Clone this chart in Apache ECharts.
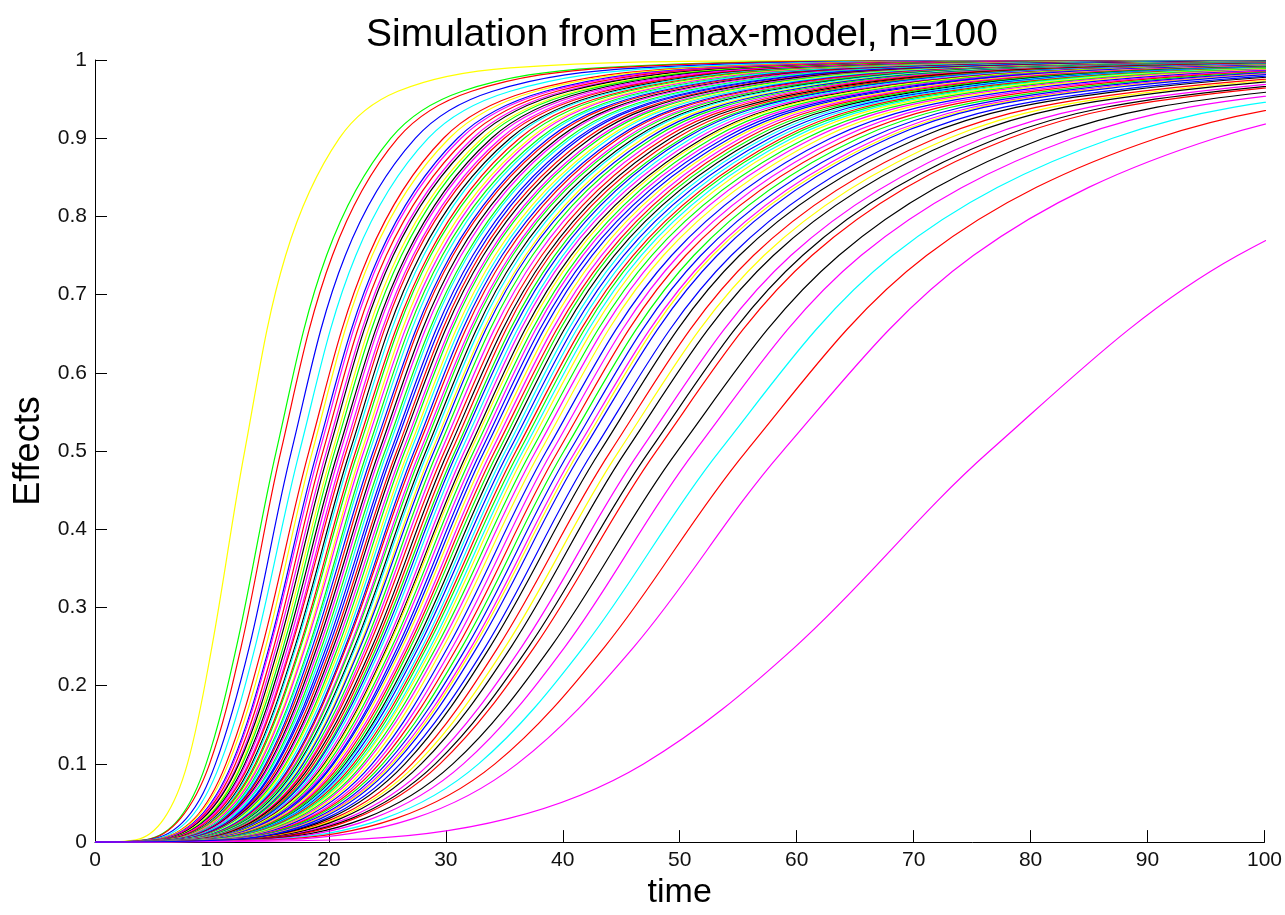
<!DOCTYPE html>
<html>
<head>
<meta charset="utf-8">
<script src="https://cdn.jsdelivr.net/npm/echarts@6/dist/echarts.min.js"></script>
<style>html,body{margin:0;padding:0;background:#fff}#chart{width:1285px;height:915px}</style>
</head>
<body>
<div id="chart"></div>
<script>
// Effect levels at which the crossing time of each simulated subject was read
const effectLevels = [0, 0.003, 0.03, 0.1, 0.25, 0.5, 0.75, 0.9, 0.96, 0.99, 0.999, 0.99999];

// Time at which each of the 100 simulated curves reaches the effect levels above
const subjectTimes = [
[0,3.5,5.9,7.9,10.0,12.8,16.3,20.9,25.9,35.5,59.4,165.3],
[0,4.3,7.2,9.5,12.1,15.5,19.8,25.3,31.4,43.0,71.9,200.2],
[0,4.4,7.3,9.8,12.5,15.9,20.3,25.9,32.2,44.1,73.8,205.3],
[0,4.6,7.8,10.3,13.2,16.8,21.4,27.4,34.0,46.6,78.0,217.0],
[0,4.8,8.1,10.7,13.7,17.5,22.3,28.5,35.5,48.6,81.2,226.0],
[0,5.0,8.5,11.2,14.3,18.3,23.4,29.8,37.1,50.8,84.9,236.3],
[0,5.1,8.6,11.4,14.6,18.6,23.7,30.3,37.7,51.6,86.3,240.2],
[0,5.2,8.8,11.7,14.9,19.0,24.3,31.0,38.5,52.7,88.2,245.4],
[0,5.3,8.9,11.8,15.0,19.2,24.5,31.3,38.9,53.3,89.1,248.0],
[0,5.4,9.0,12.0,15.3,19.5,24.9,31.8,39.5,54.1,90.5,251.8],
[0,5.4,9.1,12.2,15.5,19.8,25.3,32.3,40.1,55.0,91.9,255.7],
[0,5.5,9.2,12.3,15.7,20.0,25.5,32.6,40.5,55.5,92.8,258.3],
[0,5.6,9.4,12.5,15.9,20.3,25.9,33.1,41.1,56.4,94.2,262.2],
[0,5.6,9.5,12.6,16.1,20.5,26.2,33.4,41.5,56.9,95.1,264.8],
[0,5.7,9.6,12.8,16.3,20.8,26.6,33.9,42.1,57.7,96.5,268.6],
[0,5.8,9.7,12.9,16.5,21.0,26.8,34.2,42.6,58.3,97.5,271.2],
[0,5.9,9.8,13.1,16.7,21.3,27.2,34.7,43.2,59.1,98.8,275.1],
[0,5.9,9.9,13.2,16.8,21.5,27.4,35.0,43.6,59.7,99.8,277.7],
[0,6.0,10.1,13.4,17.1,21.8,27.8,35.5,44.2,60.5,101.2,281.5],
[0,6.1,10.2,13.5,17.2,22.0,28.1,35.8,44.6,61.1,102.1,284.1],
[0,6.1,10.3,13.7,17.5,22.3,28.5,36.3,45.2,61.9,103.5,288.0],
[0,6.2,10.4,13.8,17.6,22.5,28.7,36.7,45.6,62.5,104.4,290.6],
[0,6.3,10.5,14.0,17.9,22.8,29.1,37.2,46.2,63.3,105.8,294.5],
[0,6.3,10.6,14.1,18.0,23.0,29.4,37.5,46.6,63.9,106.7,297.0],
[0,6.4,10.8,14.3,18.3,23.3,29.7,38.0,47.2,64.7,108.1,300.9],
[0,6.5,10.9,14.4,18.4,23.5,30.0,38.3,47.6,65.2,109.1,303.5],
[0,6.5,11.0,14.6,18.6,23.8,30.4,38.8,48.2,66.1,110.4,307.4],
[0,6.6,11.1,14.7,18.8,24.0,30.6,39.1,48.6,66.6,111.4,310.0],
[0,6.7,11.2,14.9,19.0,24.3,31.0,39.6,49.2,67.5,112.8,313.8],
[0,6.7,11.3,15.0,19.2,24.5,31.3,39.9,49.6,68.0,113.7,316.4],
[0,6.8,11.5,15.2,19.4,24.8,31.7,40.4,50.3,68.9,115.1,320.3],
[0,6.9,11.5,15.3,19.6,25.0,31.9,40.7,50.7,69.4,116.0,322.9],
[0,7.0,11.7,15.5,19.8,25.3,32.3,41.2,51.3,70.2,117.4,326.7],
[0,7.0,11.8,15.6,20.0,25.5,32.6,41.5,51.7,70.8,118.3,329.3],
[0,7.1,11.9,15.8,20.2,25.8,32.9,42.0,52.3,71.6,119.7,333.2],
[0,7.2,12.0,16.0,20.4,26.0,33.2,42.4,52.7,72.2,120.7,335.8],
[0,7.2,12.1,16.1,20.6,26.3,33.6,42.9,53.3,73.0,122.1,339.7],
[0,7.3,12.2,16.3,20.8,26.5,33.8,43.2,53.7,73.6,123.0,342.2],
[0,7.4,12.4,16.4,21.0,26.8,34.2,43.7,54.3,74.4,124.4,346.1],
[0,7.4,12.5,16.6,21.2,27.0,34.5,44.0,54.7,75.0,125.3,348.7],
[0,7.5,12.6,16.8,21.4,27.3,34.8,44.5,55.3,75.8,126.7,352.6],
[0,7.6,12.7,16.9,21.5,27.5,35.1,44.8,55.7,76.3,127.6,355.2],
[0,7.7,12.8,17.1,21.8,27.8,35.5,45.3,56.3,77.2,129.0,359.0],
[0,7.7,12.9,17.2,21.9,28.0,35.7,45.6,56.7,77.7,129.9,361.6],
[0,7.8,13.1,17.4,22.2,28.3,36.1,46.1,57.3,78.6,131.3,365.5],
[0,7.8,13.2,17.5,22.3,28.5,36.4,46.4,57.7,79.1,132.3,368.1],
[0,7.9,13.3,17.7,22.6,28.8,36.8,46.9,58.4,80.0,133.6,372.0],
[0,8.0,13.4,17.8,22.7,29.0,37.0,47.3,58.8,80.5,134.6,374.5],
[0,8.1,13.5,18.0,23.0,29.3,37.4,47.7,59.4,81.3,136.0,378.4],
[0,8.1,13.7,18.2,23.2,29.6,37.8,48.2,60.0,82.2,137.4,382.3],
[0,8.2,13.8,18.3,23.4,29.9,38.2,48.7,60.6,83.0,138.8,386.2],
[0,8.3,13.9,18.5,23.7,30.2,38.6,49.2,61.2,83.8,140.1,390.0],
[0,8.4,14.1,18.7,23.9,30.5,38.9,49.7,61.8,84.7,141.5,393.9],
[0,8.5,14.2,18.9,24.1,30.8,39.3,50.2,62.4,85.5,142.9,397.8],
[0,8.5,14.3,19.0,24.3,31.0,39.6,50.5,62.8,86.1,143.9,400.4],
[0,8.6,14.5,19.2,24.5,31.3,40.0,51.0,63.4,86.9,145.3,404.2],
[0,8.7,14.6,19.4,24.8,31.6,40.3,51.5,64.0,87.7,146.6,408.1],
[0,8.8,14.7,19.6,25.0,31.9,40.7,52.0,64.6,88.6,148.0,412.0],
[0,8.8,14.8,19.7,25.1,32.1,41.0,52.3,65.0,89.1,149.0,414.6],
[0,8.9,15.0,19.9,25.4,32.4,41.4,52.8,65.7,90.0,150.4,418.4],
[0,9.0,15.1,20.1,25.6,32.7,41.7,53.3,66.3,90.8,151.7,422.3],
[0,9.1,15.2,20.3,25.9,33.0,42.1,53.8,66.9,91.6,153.1,426.2],
[0,9.2,15.4,20.4,26.1,33.3,42.5,54.3,67.5,92.5,154.5,430.1],
[0,9.2,15.5,20.6,26.3,33.6,42.9,54.7,68.1,93.3,155.9,433.9],
[0,9.3,15.7,20.8,26.6,33.9,43.3,55.2,68.7,94.1,157.3,437.8],
[0,9.4,15.8,21.0,26.8,34.2,43.7,55.7,69.3,94.9,158.7,441.7],
[0,9.5,15.9,21.2,27.0,34.5,44.0,56.2,69.9,95.8,160.1,445.6],
[0,9.6,16.1,21.4,27.3,34.8,44.4,56.7,70.5,96.6,161.5,449.4],
[0,9.7,16.2,21.5,27.5,35.1,44.8,57.2,71.1,97.4,162.9,453.3],
[0,9.7,16.4,21.7,27.7,35.4,45.2,57.7,71.7,98.3,164.3,457.2],
[0,9.8,16.5,21.9,28.0,35.7,45.6,58.2,72.3,99.1,165.7,461.1],
[0,9.9,16.6,22.1,28.2,36.0,46.0,58.7,72.9,99.9,167.1,464.9],
[0,10.0,16.8,22.3,28.4,36.3,46.3,59.1,73.6,100.8,168.5,468.8],
[0,10.1,16.9,22.5,28.7,36.6,46.7,59.6,74.2,101.6,169.8,472.7],
[0,10.2,17.0,22.6,28.9,36.9,47.1,60.1,74.8,102.4,171.2,476.6],
[0,10.3,17.2,22.9,29.2,37.3,47.6,60.8,75.6,103.6,173.1,481.7],
[0,10.4,17.4,23.1,29.5,37.7,48.1,61.4,76.4,104.7,174.9,486.9],
[0,10.5,17.6,23.4,29.8,38.1,48.6,62.1,77.2,105.8,176.8,492.1],
[0,10.6,17.8,23.7,30.2,38.6,49.3,62.9,78.2,107.2,179.1,498.5],
[0,10.8,18.1,24.0,30.6,39.1,49.9,63.7,79.2,108.6,181.4,505.0],
[0,10.9,18.3,24.3,31.0,39.6,50.5,64.5,80.2,109.9,183.8,511.4],
[0,11.0,18.5,24.6,31.4,40.1,51.2,65.3,81.3,111.3,186.1,517.9],
[0,11.2,18.8,24.9,31.8,40.6,51.8,66.2,82.3,112.7,188.4,524.3],
[0,11.3,19.0,25.2,32.2,41.1,52.5,67.0,83.3,114.1,190.7,530.8],
[0,11.4,19.1,25.4,32.4,41.4,52.8,67.5,83.9,114.9,192.1,534.7],
[0,11.7,19.7,26.1,33.4,42.6,54.4,69.4,86.3,118.3,197.7,550.2],
[0,11.9,20.0,26.5,33.8,43.2,55.1,70.4,87.5,119.9,200.5,557.9],
[0,12.1,20.4,27.1,34.5,44.1,56.3,71.9,89.4,122.4,204.6,569.6],
[0,12.3,20.7,27.5,35.1,44.8,57.2,73.0,90.8,124.4,207.9,578.6],
[0,12.5,21.0,27.9,35.6,45.4,58.0,74.0,92.0,126.0,210.7,586.3],
[0,12.8,21.5,28.6,36.5,46.6,59.5,75.9,94.4,129.4,216.3,601.8],
[0,13.0,21.9,29.1,37.1,47.4,60.5,77.2,96.0,131.6,220.0,612.2],
[0,13.2,22.2,29.5,37.6,48.0,61.3,78.2,97.3,133.3,222.7,619.9],
[0,13.7,23.0,30.6,39.0,49.8,63.6,81.1,100.9,138.3,231.1,643.2],
[0,14.1,23.7,31.5,40.2,51.3,65.5,83.6,103.9,142.4,238.1,662.5],
[0,14.7,24.7,32.8,41.8,53.4,68.2,87.0,108.2,148.3,247.8,689.7],
[0,15.3,25.7,34.2,43.6,55.7,71.1,90.8,112.9,154.6,258.5,719.4],
[0,16.2,27.2,36.1,46.1,58.8,75.1,95.8,119.1,163.2,272.9,759.4],
[0,21.1,35.3,46.9,59.9,76.5,97.7,124.6,155.0,212.4,355.0,988.0],
[0,11.5,19.3,25.6,32.7,41.7,53.2,67.9,84.5,115.8,193.5,538.6]
];

// Colour letter of each curve (same order as subjectTimes)
const subjectColors = [
'y','g','r','b','c','r','y','b','m',
'r','m','k','y','g','k','m','m','r','k','c','r','g','y','m','g','c','b','r','k','m','g','c','b','b','r','k','m','g','y','c','b','r','m','g','k','c','y','b','g','m','r',
'k','r','g','b','c','m','k','y','g','m','b','b','y','m','r','g','k','c','b','c','r','g','c','y','g','m','y','b','m','r','g','b','m','y',
'b','k','r','y','k','m','k','r','k','m','c','r','m','m','b'
];

const xTickValues = [0,10,20,30,40,50,60,70,80,90,100];
const yTickValues = [0,0.1,0.2,0.3,0.4,0.5,0.6,0.7,0.8,0.9,1];

const palette = {y:'#ffff00', g:'#00ff00', r:'#ff0000', b:'#0000ff', c:'#00ffff', m:'#ff00ff', k:'#000000'};
const FONT = "'Liberation Sans', Arial, Helvetica, sans-serif";

const series = subjectTimes.map(function (times, i) {
  return {
    type: 'line',
    name: 'subject ' + (i + 1),
    data: times.map(function (t, j) { return [t, effectLevels[j]]; }),
    showSymbol: false,
    symbol: 'none',
    smooth: 0.35,
    clip: true,
    silent: true,
    animation: false,
    emphasis: { disabled: true },
    lineStyle: { color: palette[subjectColors[i]], width: 1.2 }
  };
});

const chart = echarts.init(document.getElementById('chart'), null, { renderer: 'canvas' });
chart.setOption({
  backgroundColor: '#ffffff',
  animation: false,
  title: {
    text: 'Simulation from Emax-model, n=100',
    left: 677,
    top: 11,
    textAlign: 'center',
    textStyle: { fontFamily: FONT, fontSize: 39, fontWeight: 'normal', color: '#000' }
  },
  grid: { left: 95, right: 20, top: 60, bottom: 72, containLabel: false },
  xAxis: {
    type: 'value',
    min: xTickValues[0],
    max: xTickValues[xTickValues.length - 1],
    interval: xTickValues[1] - xTickValues[0],
    name: 'time',
    nameLocation: 'middle',
    nameGap: 18,
    nameTextStyle: { fontFamily: FONT, fontSize: 34, color: '#000' },
    axisLine: { show: true, onZero: false, lineStyle: { color: '#000', width: 1 } },
    axisTick: { show: true, inside: true, length: 12, lineStyle: { color: '#000', width: 1 } },
    axisLabel: { fontFamily: FONT, fontSize: 21, color: '#111', margin: 8 },
    splitLine: { show: false }
  },
  yAxis: {
    type: 'value',
    min: yTickValues[0],
    max: yTickValues[yTickValues.length - 1],
    interval: 0.1,
    name: 'Effects',
    nameLocation: 'middle',
    nameRotate: 90,
    nameGap: 46,
    nameTextStyle: { fontFamily: FONT, fontSize: 36, color: '#000' },
    axisLine: { show: true, onZero: false, lineStyle: { color: '#000', width: 1 } },
    axisTick: { show: true, inside: true, length: 12, lineStyle: { color: '#000', width: 1 } },
    axisLabel: { fontFamily: FONT, fontSize: 21, color: '#111', margin: 8 },
    splitLine: { show: false }
  },
  series: series
});
</script>
</body>
</html>
